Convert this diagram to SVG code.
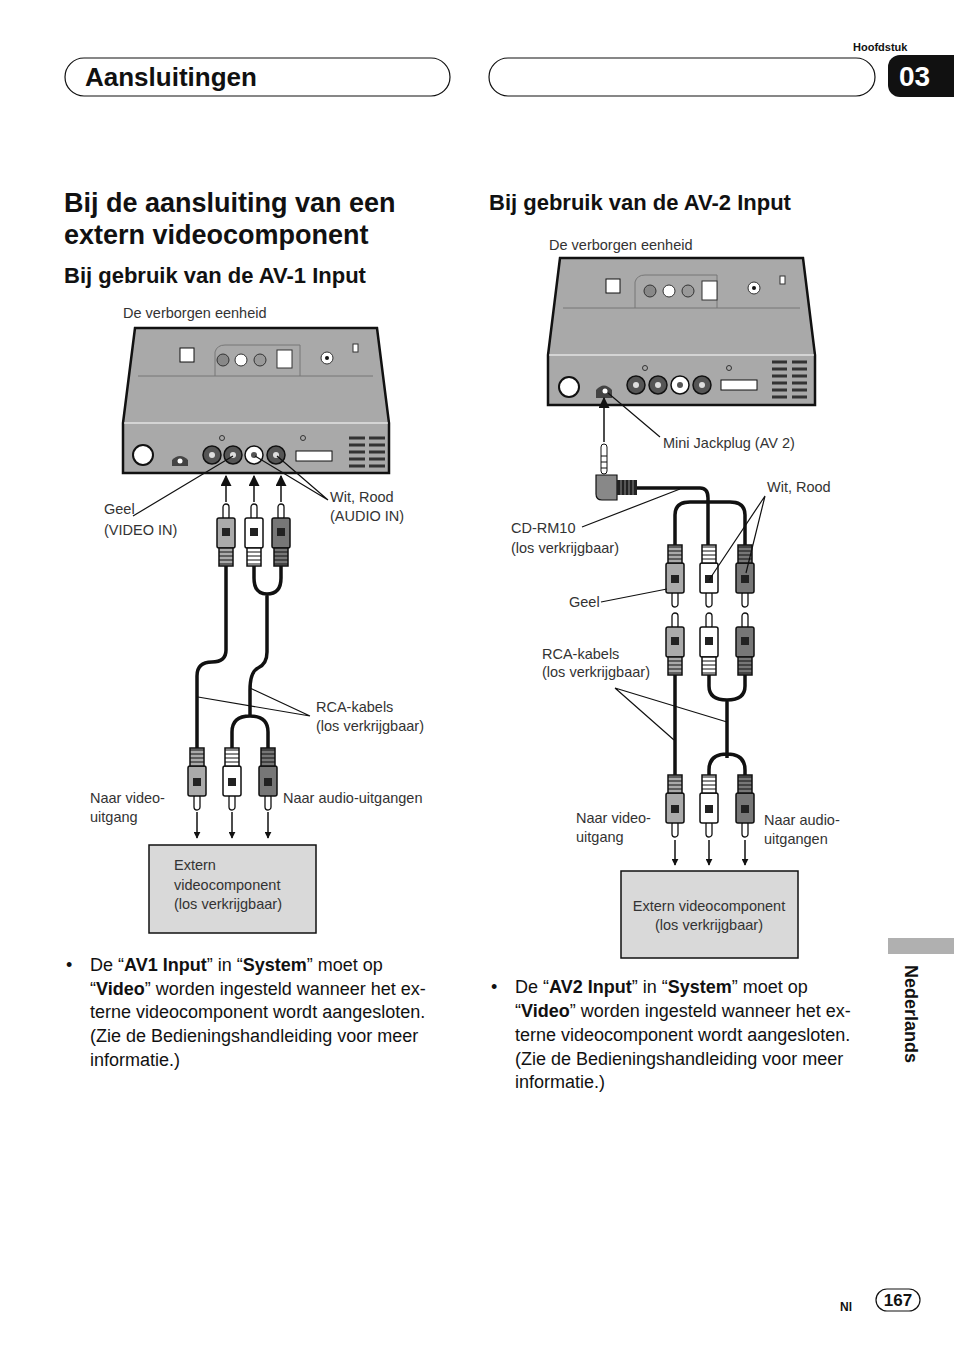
<svg xmlns="http://www.w3.org/2000/svg" width="954" height="1352" viewBox="0 0 954 1352">
<style>
.lb{font-family:"Liberation Sans",Arial,sans-serif;font-size:14.5px;fill:#333}
.bd{font-family:"Liberation Sans",Arial,sans-serif;font-size:18px;fill:#111}
.h1{font-family:"Liberation Sans",Arial,sans-serif;font-weight:bold;fill:#111}
.ln{stroke:#111;stroke-width:1.2;fill:none}
.cb{stroke:#111;stroke-width:3.5;fill:none}
.dev{fill:#a9a9a9;stroke:#111;stroke-width:2.5}
.ar{stroke:#111;stroke-width:1.5;fill:none;marker-end:url(#ah)}
</style>
<defs>
<marker id="ah" viewBox="0 0 10 10" refX="9" refY="5" markerWidth="7" markerHeight="7" markerUnits="userSpaceOnUse" orient="auto"><path d="M0,0L10,5L0,10Z" fill="#111"/></marker>
<marker id="ah2" viewBox="0 0 10 10" refX="9" refY="5" markerWidth="11" markerHeight="11" markerUnits="userSpaceOnUse" orient="auto"><path d="M0,0L10,5L0,10Z" fill="#111"/></marker>
<symbol id="plug" overflow="visible">
<rect x="-3" y="0" width="6" height="16" rx="3" fill="#fff" stroke="#111" stroke-width="1.3"/>
<rect x="-9" y="14" width="18" height="30" rx="2" stroke="#111" stroke-width="1.5"/>
<rect x="-4" y="24" width="8" height="8" fill="#222"/>
<path d="M-7,44h14v18h-14z" stroke="#111" stroke-width="1.5"/>
<path d="M-7,48h14M-7,52h14M-7,56h14M-7,60h14" stroke="#111" stroke-width="1"/>
</symbol>
<g id="rca"><circle r="9" fill="#555" stroke="#111" stroke-width="1.5"/><circle r="3" fill="#ddd"/></g>
<g id="rcaw"><circle r="9" fill="#fff" stroke="#111" stroke-width="1.5"/><circle r="3" fill="#555"/></g>
</defs>

<text x="853" y="51" class="h1" font-size="11">Hoofdstuk</text>
<g id="hdr1"><rect x="65" y="58" width="385" height="38" rx="19" fill="#fff" stroke="#111" stroke-width="1.2"/><text x="85" y="86" class="h1" font-size="26">Aansluitingen</text></g>
<g id="hdr2"><rect x="489" y="58" width="386" height="38" rx="19" fill="#fff" stroke="#111" stroke-width="1.2"/></g>
<g id="tab"><path d="M900,55H954V97H900A12,12 0 0 1 888,85V67A12,12 0 0 1 900,55Z" fill="#111"/><text x="899" y="86" font-family="Liberation Sans,Arial,sans-serif" font-weight="bold" font-size="28" fill="#fff">03</text></g>

<text x="64" y="212" class="h1" font-size="27">Bij de aansluiting van een</text>
<text x="64" y="244" class="h1" font-size="27">extern videocomponent</text>
<text x="64" y="283" class="h1" font-size="22">Bij gebruik van de AV-1 Input</text>
<text x="489" y="210" class="h1" font-size="22">Bij gebruik van de AV-2 Input</text>

<!-- LEFT DIAGRAM -->
<text x="123" y="318" class="lb">De verborgen eenheid</text>
<g id="unit1">
<path d="M135,328H377L389,423V473H123V423Z" class="dev"/>
<path d="M124,423H388" stroke="#fff" stroke-width="1.2"/>
<path d="M138,376H373M215,376V352Q217,345 225,345H300V376" stroke="#777" fill="none"/>
<rect x="180" y="348" width="14" height="14" fill="#fff" stroke="#111"/>
<circle cx="223" cy="360" r="6" fill="#888" stroke="#333"/><circle cx="241" cy="360" r="6" fill="#fff" stroke="#333"/><circle cx="260" cy="360" r="6" fill="#999" stroke="#333"/>
<rect x="277" y="350" width="15" height="18" fill="#fff" stroke="#333"/>
<circle cx="327" cy="358" r="6" fill="#fff" stroke="#333"/><circle cx="327" cy="358" r="2" fill="#111"/>
<rect x="353" y="344" width="5" height="8" fill="#fff" stroke="#333"/>
<circle cx="143" cy="455" r="10" fill="#fff" stroke="#111" stroke-width="2"/>
<path d="M172,466V460Q180,452 188,460V466Z" fill="#444"/><circle cx="180" cy="461" r="2.5" fill="#fff"/>
<use href="#rca" x="212" y="455"/><use href="#rca" x="233" y="455"/><use href="#rcaw" x="254" y="455"/><use href="#rca" x="276" y="455"/>
<circle cx="222" cy="438" r="2.5" fill="none" stroke="#333"/><circle cx="303" cy="438" r="2.5" fill="none" stroke="#333"/>
<rect x="296" y="451" width="36" height="10" fill="#fff" stroke="#111"/>
<path d="M349,438h16M369,438h16M349,445h16M369,445h16M349,452h16M369,452h16M349,459h16M369,459h16M349,466h16M369,466h16" stroke="#333" stroke-width="3"/>
</g>
<g id="conn1">
<path d="M226,502V476" class="ar" style="marker-end:url(#ah2)"/><path d="M254,502V476" class="ar" style="marker-end:url(#ah2)"/><path d="M281,502V476" class="ar" style="marker-end:url(#ah2)"/>
<path d="M226,566V650Q226,662 212,662Q197,662 197,676V748" class="cb"/>
<path d="M254,566V578Q254,594 267,594Q281,594 281,578V566M267,594V652Q267,664 258,668Q250,672 250,690V716M232,748V732Q232,716 250,716Q268,716 268,732V748" class="cb"/>
<path d="M197,812V838" class="ar"/><path d="M232,812V838" class="ar"/><path d="M268,812V838" class="ar"/>
</g>
<g id="plugs1">
<use href="#plug" x="226" y="504" fill="#aaa"/><use href="#plug" x="254" y="504" fill="#fff"/><use href="#plug" x="281" y="504" fill="#777"/>
<use href="#plug" transform="translate(197,810) rotate(180)" fill="#aaa"/><use href="#plug" transform="translate(232,810) rotate(180)" fill="#fff"/><use href="#plug" transform="translate(268,810) rotate(180)" fill="#777"/>
</g>
<g id="leaders1">
<path d="M133,516L233,456M328,500L255,456M328,500L277,456M310,716L198,697M310,716L250,688" class="ln"/>
</g>
<text x="104" y="514" class="lb">Geel</text><text x="104" y="535" class="lb">(VIDEO IN)</text>
<text x="330" y="502" class="lb">Wit, Rood</text><text x="330" y="521" class="lb">(AUDIO IN)</text>
<text x="316" y="712" class="lb">RCA-kabels</text><text x="316" y="731" class="lb">(los verkrijgbaar)</text>
<text x="90" y="803" class="lb">Naar video-</text><text x="90" y="822" class="lb">uitgang</text>
<text x="283" y="803" class="lb">Naar audio-uitgangen</text>
<g id="ext1"><rect x="149" y="845" width="167" height="88" fill="#d9d9d9" stroke="#111" stroke-width="1.5"/>
<text x="174" y="870" class="lb">Extern</text><text x="174" y="890" class="lb">videocomponent</text><text x="174" y="909" class="lb">(los verkrijgbaar)</text></g>

<g class="bd"><text x="66" y="971">•</text>
<text x="90" y="971">De “<tspan font-weight="bold">AV1 Input</tspan>” in “<tspan font-weight="bold">System</tspan>” moet op</text>
<text x="90" y="995">“<tspan font-weight="bold">Video</tspan>” worden ingesteld wanneer het ex-</text>
<text x="90" y="1018">terne videocomponent wordt aangesloten.</text>
<text x="90" y="1042">(Zie de Bedieningshandleiding voor meer</text>
<text x="90" y="1066">informatie.)</text></g>

<!-- RIGHT DIAGRAM -->
<text x="549" y="250" class="lb">De verborgen eenheid</text>
<g id="unit2">
<path d="M560,258H803L815,355V405H548V355Z" class="dev"/>
<path d="M549,355H814" stroke="#fff" stroke-width="1.2"/>
<path d="M563,308H800M635,308V282Q637,275 645,275H717V308" stroke="#777" fill="none"/>
<rect x="606" y="279" width="14" height="14" fill="#fff" stroke="#111"/>
<circle cx="650" cy="291" r="6" fill="#888" stroke="#333"/><circle cx="669" cy="291" r="6" fill="#fff" stroke="#333"/><circle cx="688" cy="291" r="6" fill="#999" stroke="#333"/>
<rect x="702" y="281" width="15" height="19" fill="#fff" stroke="#333"/>
<circle cx="754" cy="288" r="6" fill="#fff" stroke="#333"/><circle cx="754" cy="288" r="2" fill="#111"/>
<rect x="780" y="276" width="5" height="8" fill="#fff" stroke="#333"/>
<circle cx="569" cy="387" r="10" fill="#fff" stroke="#111" stroke-width="2"/>
<path d="M596,398V390Q604,381 612,390V398Z" fill="#444"/><circle cx="605" cy="391" r="2.5" fill="#fff"/>
<use href="#rca" x="636" y="385"/><use href="#rca" x="658" y="385"/><use href="#rcaw" x="680" y="385"/><use href="#rca" x="702" y="385"/>
<circle cx="645" cy="368" r="2.5" fill="none" stroke="#333"/><circle cx="729" cy="368" r="2.5" fill="none" stroke="#333"/>
<rect x="721" y="380" width="36" height="10" fill="#fff" stroke="#111"/>
<path d="M772,362h15M792,362h15M772,369h15M792,369h15M772,376h15M792,376h15M772,383h15M792,383h15M772,390h15M792,390h15M772,397h15M792,397h15" stroke="#333" stroke-width="3"/>
</g>
<g id="conn2">
<path d="M604,442V398" class="ar" style="marker-end:url(#ah2)"/>
<g id="jack"><rect x="601" y="444" width="6" height="30" rx="3" fill="#fff" stroke="#111"/>
<path d="M601,456h6M601,462h6M601,468h6" stroke="#111"/>
<path d="M596,475H617V500H602Q596,500 596,494Z" fill="#888" stroke="#111" stroke-width="1.2"/>
<rect x="617" y="480" width="20" height="15" fill="#222"/>
<path d="M621,480v15M625,480v15M629,480v15M633,480v15" stroke="#888"/></g>
<path d="M637,488H700Q708,488 708,498V553" class="cb"/>
<path d="M675,553V515Q675,502 690,502H730Q745,502 745,515V553" class="cb"/>
<path d="M675,675V777M709,675V686Q709,700 727,700Q745,700 745,686V675M727,700V758M709,776V770Q709,754 727,754Q745,754 745,770V776" class="cb"/>
<path d="M675,840V865" class="ar"/><path d="M709,840V865" class="ar"/><path d="M745,840V865" class="ar"/>
</g>
<g id="plugs2">
<use href="#plug" transform="translate(675,607) rotate(180)" fill="#aaa"/><use href="#plug" transform="translate(709,607) rotate(180)" fill="#fff"/><use href="#plug" transform="translate(745,607) rotate(180)" fill="#777"/>
<use href="#plug" x="675" y="613" fill="#aaa"/><use href="#plug" x="709" y="613" fill="#fff"/><use href="#plug" x="745" y="613" fill="#777"/>
<use href="#plug" transform="translate(675,837) rotate(180)" fill="#aaa"/><use href="#plug" transform="translate(709,837) rotate(180)" fill="#fff"/><use href="#plug" transform="translate(745,837) rotate(180)" fill="#777"/>
</g>
<g id="leaders2">
<path d="M660,437L608,393M582,527L680,489M765,496L709,580M765,496L746,573M601,602L667,589M615,688L674,740M615,688L727,722" class="ln"/>
</g>
<text x="663" y="448" class="lb">Mini Jackplug (AV 2)</text>
<text x="767" y="492" class="lb">Wit, Rood</text>
<text x="511" y="533" class="lb">CD-RM10</text><text x="511" y="553" class="lb">(los verkrijgbaar)</text>
<text x="569" y="607" class="lb">Geel</text>
<text x="542" y="659" class="lb">RCA-kabels</text><text x="542" y="677" class="lb">(los verkrijgbaar)</text>
<text x="576" y="823" class="lb">Naar video-</text><text x="576" y="842" class="lb">uitgang</text>
<text x="764" y="825" class="lb">Naar audio-</text><text x="764" y="844" class="lb">uitgangen</text>
<g id="ext2"><rect x="621" y="871" width="177" height="87" fill="#d9d9d9" stroke="#111" stroke-width="1.5"/>
<text x="709" y="911" class="lb" text-anchor="middle">Extern videocomponent</text><text x="709" y="930" class="lb" text-anchor="middle">(los verkrijgbaar)</text></g>

<g class="bd"><text x="491" y="993">•</text>
<text x="515" y="993">De “<tspan font-weight="bold">AV2 Input</tspan>” in “<tspan font-weight="bold">System</tspan>” moet op</text>
<text x="515" y="1017">“<tspan font-weight="bold">Video</tspan>” worden ingesteld wanneer het ex-</text>
<text x="515" y="1041">terne videocomponent wordt aangesloten.</text>
<text x="515" y="1065">(Zie de Bedieningshandleiding voor meer</text>
<text x="515" y="1088">informatie.)</text></g>

<rect x="888" y="938" width="66" height="16" fill="#b0b0b0"/>
<text transform="translate(905,965) rotate(90)" class="h1" font-size="18">Nederlands</text>
<text x="840" y="1311" class="h1" font-size="12">Nl</text>
<rect x="876" y="1289" width="44" height="22" rx="11" fill="#fff" stroke="#111" stroke-width="1.2"/>
<text x="898" y="1306" class="h1" font-size="17" text-anchor="middle">167</text>
</svg>
